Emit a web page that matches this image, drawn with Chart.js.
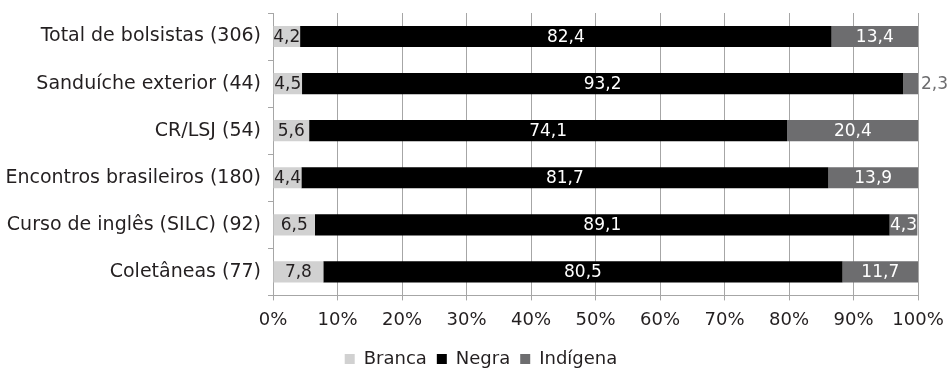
<!DOCTYPE html>
<html lang="pt-BR">
<head>
<meta charset="utf-8">
<script src="https://cdn.jsdelivr.net/npm/chart.js@4"></script>
<style>
  html, body { margin: 0; padding: 0; background: #fff; }
  #wrap { width: 950px; height: 368px; }
</style>
</head>
<body>
<div id="wrap"><canvas id="grafico"></canvas></div>
<script>
const categorias = [
    "Total de bolsistas (306)",
    "Sanduíche exterior (44)",
    "CR/LSJ (54)",
    "Encontros brasileiros (180)",
    "Curso de inglês (SILC) (92)",
    "Coletâneas (77)"
];
const branca = [4.2, 4.5, 5.6, 4.4, 6.5, 7.8];
const negra = [82.4, 93.2, 74.1, 81.7, 89.1, 80.5];
const indigena = [13.4, 2.3, 20.4, 13.9, 4.3, 11.7];
const ticksX = [0, 10, 20, 30, 40, 50, 60, 70, 80, 90, 100];

const fonte = "'DejaVu Sans', sans-serif";
const cinzaGrade = "#a6a6a6";
const corTextoEixo = "#231f20";

// rótulos de valor dentro das barras; fatias muito finas ficam com o rótulo do lado de fora
const rotulosPlugin = {
    id: "rotulos",
    afterDatasetsDraw(chart) {
        const ctx = chart.ctx;
        ctx.save();
        ctx.font = "17px " + fonte;
        ctx.textBaseline = "middle";
        chart.data.datasets.forEach((ds, i) => {
            const meta = chart.getDatasetMeta(i);
            meta.data.forEach((bar, j) => {
                const v = ds.data[j];
                const txt = v.toLocaleString("pt-BR", { minimumFractionDigits: 1 });
                if (v < 3) {
                    ctx.fillStyle = "#6d6d6f";
                    ctx.textAlign = "left";
                    ctx.fillText(txt, bar.x + 3, bar.y + 1);
                } else {
                    ctx.fillStyle = ds.corTexto;
                    ctx.textAlign = "center";
                    ctx.fillText(txt, (bar.x + bar.base) / 2, bar.y + 1);
                }
            });
        });
        ctx.restore();
    }
};

// a legenda fica um pouco à direita do centro do canvas
const legendaDeslocada = {
    id: "legendaDeslocada",
    afterLayout(chart) {
        chart.legend.left += 22;
        chart.legend.right += 22;
    }
};

const ctx = document.getElementById("grafico").getContext("2d");
new Chart(ctx, {
    type: "bar",
    data: {
        labels: categorias,
        datasets: [
            { label: "Branca", data: branca, backgroundColor: "#d1d1d1", corTexto: "#231f20" },
            { label: "Negra", data: negra, backgroundColor: "#000000", corTexto: "#ffffff" },
            { label: "Indígena", data: indigena, backgroundColor: "#6d6d6f", corTexto: "#ffffff" }
        ]
    },
    options: {
        indexAxis: "y",
        responsive: true,
        maintainAspectRatio: false,
        animation: false,
        barPercentage: 0.45,
        categoryPercentage: 1,
        layout: { padding: { top: 13, right: 32, left: 0, bottom: -10 } },
        scales: {
            x: {
                stacked: true,
                min: 0,
                max: 100,
                afterBuildTicks: (scale) => { scale.ticks = ticksX.map(v => ({ value: v })); },
                afterFit: (scale) => {
                    scale.paddingLeft = 0;
                    scale.paddingRight = 0;
                },
                grid: { color: cinzaGrade, lineWidth: 1, tickLength: 5 },
                border: { color: cinzaGrade, width: 1 },
                ticks: {
                    color: corTextoEixo,
                    font: { family: fonte, size: 18 },
                    padding: 9,
                    maxRotation: 0,
                    callback: (v) => v + "%"
                }
            },
            y: {
                stacked: true,
                afterFit: (scale) => {
                    scale.width = 273;
                    scale.paddingTop = 0;
                    scale.paddingBottom = 0;
                },
                grid: { offset: true, drawOnChartArea: false, color: cinzaGrade, tickLength: 5 },
                border: { color: cinzaGrade, width: 1 },
                ticks: {
                    color: corTextoEixo,
                    font: { family: fonte, size: 19 },
                    padding: 7
                }
            }
        },
        plugins: {
            legend: {
                position: "bottom",
                labels: {
                    color: corTextoEixo,
                    font: { family: fonte, size: 18 },
                    boxWidth: 10,
                    boxHeight: 10,
                    padding: 10
                }
            },
            tooltip: { enabled: false }
        }
    },
    plugins: [rotulosPlugin, legendaDeslocada]
});
</script>
</body>
</html>
